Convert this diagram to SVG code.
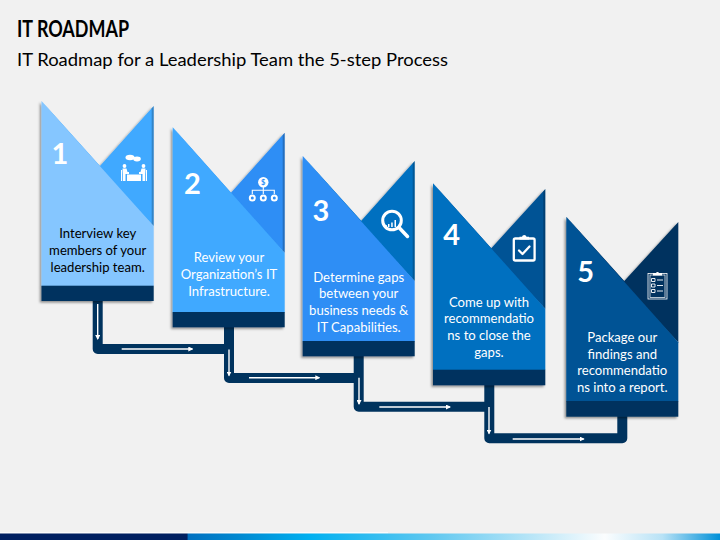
<svg xmlns="http://www.w3.org/2000/svg" width="720" height="540" viewBox="0 0 720 540">
<style>
.t{font-family:"Lato","Open Sans",sans-serif;font-size:13.1px;text-anchor:middle;fill:#fff}
.k{fill:#000}
.n{font-family:"Lato","Open Sans",sans-serif;font-size:29px;font-weight:700;text-anchor:middle;fill:#fff}
.c{fill:none;stroke:#00335e;stroke-width:10;stroke-linejoin:round}
.a{fill:none;stroke:#fff;stroke-width:1.4;marker-end:url(#ah)}
.bar{fill:#00335e}
.edge{fill:#000;opacity:.22}
.ws{fill:none;stroke:#fff;stroke-width:2.300;stroke-linecap:round;stroke-linejoin:round}
.wf{fill:#fff}
</style>
<defs>
<filter id="sh" x="-10%" y="-10%" width="120%" height="120%"><feDropShadow dx="-1.6" dy="1.6" stdDeviation="1.1" flood-color="#000" flood-opacity=".42"/></filter>
<marker id="ah" markerWidth="5" markerHeight="5" refX="4" refY="2.5" orient="auto" markerUnits="userSpaceOnUse"><path d="M0 0L5 2.5L0 5Z" fill="#fff"/></marker>
<linearGradient id="bg" x1="0" x2="1" y1="0" y2="0">
<stop offset="0" stop-color="#002060"/><stop offset=".26" stop-color="#002060"/><stop offset=".261" stop-color="#0070c0"/><stop offset=".33" stop-color="#0088d0"/><stop offset=".43" stop-color="#00b0f0"/><stop offset=".6" stop-color="#60c8f0"/><stop offset=".75" stop-color="#c0e8f8"/><stop offset=".84" stop-color="#fbfdfe"/><stop offset=".92" stop-color="#b8e2f6"/><stop offset="1" stop-color="#0090d8"/>
</linearGradient>
</defs>
<rect width="720" height="540" fill="#f1f1f1"/>
<rect y="532.300" width="388" height="1.200" fill="#fff"/>
<rect y="533.500" width="720" height="6.500" fill="url(#bg)"/>
<text x="17" y="37" font-family="Lato,'Open Sans',sans-serif" font-size="22.500" font-weight="700" fill="#000" textLength="112" lengthAdjust="spacingAndGlyphs">IT ROADMAP</text>
<text x="17" y="65.500" font-family="Lato,'Open Sans',sans-serif" font-size="18" fill="#000" textLength="431" lengthAdjust="spacingAndGlyphs">IT Roadmap for a Leadership Team the 5-step Process</text>

<g id="connectors">
<path class="c" d="M97.700 300V349H229"/>
<path class="c" d="M229 326V378H358.700"/>
<path class="c" d="M358.700 355V406.700H489.300"/>
<path class="c" d="M489.300 384V438.300H622.300V416"/>
<path class="a" d="M97.700 304V339"/>
<path class="a" d="M121.700 349H192.300"/>
<path class="a" d="M229 349.500V375.500"/>
<path class="a" d="M249 377.700H319.300"/>
<path class="a" d="M359 377.700V404"/>
<path class="a" d="M379.300 407H450"/>
<path class="a" d="M489 407V433.500"/>
<path class="a" d="M512.700 439H583.700"/>
</g>

<g id="step-1">
<g filter="url(#sh)"><path fill="#3fa9ff" d="M41.500 101L100 166L153.700 106V226L100 170Z"/><path fill="#85c6ff" d="M41.500 101L153.700 226V286H41.500Z"/><rect class="bar" x="41.500" y="285.700" width="112.200" height="15.300"/></g>
<path class="edge" d="M151.700 108.300L153.700 106V226L151.700 223.800Z"/>
<text class="n" x="60" y="164">1</text>
<text class="t k" x="97.700" y="238">Interview key</text><text class="t k" x="97.700" y="255">members of your</text><text class="t k" x="97.700" y="271.500">leadership team.</text>
<g>
<ellipse class="wf" cx="130" cy="157.500" rx="4.500" ry="2.800"/><ellipse class="wf" cx="137" cy="159" rx="3.800" ry="2.400"/>
<circle class="wf" cx="124.500" cy="166" r="1.900"/><circle class="wf" cx="143.500" cy="166" r="1.900"/>
<path class="wf" d="M122.500 168.500H126.500L127.500 172H129V174H125.500V181H123V174.500Z"/><path class="wf" d="M145.500 168.500H141.500L140.500 172H139V174H142.500V181H145V174.500Z"/>
<rect class="wf" x="127" y="174.500" width="14" height="6.500"/>
<rect class="wf" x="121" y="170" width="1.200" height="11"/><rect class="wf" x="145.800" y="170" width="1.200" height="11"/>
</g>
</g>

<g id="step-2">
<g filter="url(#sh)"><path fill="#2d8ef5" d="M172.700 127.300L231 192.700L284.700 132.700V252.700L231 196Z"/><path fill="#3fa9ff" d="M172.700 127.300L284.700 252.700V312.500H172.700Z"/><rect class="bar" x="172.700" y="312" width="112" height="15.300"/></g>
<path class="edge" d="M282.700 135L284.700 132.700V252.700L282.700 250.500Z"/>
<text class="n" x="192.500" y="194">2</text>
<text class="t" x="229" y="262">Review your</text><text class="t" x="229" y="279">Organization’s IT</text><text class="t" x="229" y="295.500">Infrastructure.</text>
<g>
<circle class="wf" cx="263.300" cy="182.300" r="5.200"/>
<text x="263.300" y="185" font-family="Lato,sans-serif" font-size="7.500" font-weight="700" text-anchor="middle" fill="#2d8ef5">$</text>
<path d="M263.300 187V194M252.300 194V190.200H274.300V194" fill="none" stroke="#fff" stroke-width="1.100"/>
<circle cx="252.300" cy="198" r="2.500" fill="none" stroke="#fff" stroke-width="2"/><circle cx="263.300" cy="198" r="2.500" fill="none" stroke="#fff" stroke-width="2"/><circle cx="274.300" cy="198" r="2.500" fill="none" stroke="#fff" stroke-width="2"/>
</g>
</g>

<g id="step-3">
<g filter="url(#sh)"><path fill="#0070c0" d="M302.700 156L361.300 220.700L414.700 161V281L361.300 224Z"/><path fill="#2d8ef5" d="M302.700 156L414.700 281V341.500H302.700Z"/><rect class="bar" x="302.700" y="341" width="112" height="15.300"/></g>
<path class="edge" d="M412.700 163.300L414.700 161V281L412.700 278.800Z"/>
<text class="n" x="321" y="221">3</text>
<text class="t" x="358.700" y="281.700">Determine gaps</text><text class="t" x="358.700" y="298.400">between your</text><text class="t" x="358.700" y="315">business needs &amp;</text><text class="t" x="358.700" y="331.700">IT Capabilities.</text>
<g>
<circle cx="392" cy="220.500" r="9.300" fill="none" stroke="#fff" stroke-width="3"/>
<path d="M399 227.500L407.500 236.500" fill="none" stroke="#fff" stroke-width="3.500" stroke-linecap="round"/>
<path class="wf" d="M388 224h1.500v3H388zM391.200 222.500h1.500v4.500h-1.500zM394.500 220h1.500v7h-1.500zM385.500 225h1.300v2h-1.300z"/>
</g>
</g>

<g id="step-4">
<g filter="url(#sh)"><path fill="#005295" d="M433 183.300L491.300 248.300L545.300 189V308.700L491.300 252Z"/><path fill="#0070c0" d="M433 183.300L545.300 308.700V370H433Z"/><rect class="bar" x="433" y="369.700" width="112.300" height="15.600"/></g>
<path class="edge" d="M543.300 191.300L545.300 189V308.700L543.300 306.500Z"/>
<text class="n" x="451.700" y="245">4</text>
<text class="t" x="489" y="306.700">Come up with</text><text class="t" x="489" y="323.300">recommendatio</text><text class="t" x="489" y="340">ns to close the</text><text class="t" x="489" y="356.500">gaps.</text>
<g>
<rect x="513.800" y="238.500" width="20.800" height="22" rx="1.500" class="ws"/>
<path class="wf" d="M519.500 239.500V236.800H522A2.300 2.300 0 0 1 526.500 236.800H529V239.500Z"/>
<path class="ws" d="M519 250.500L522.500 254L529.500 246.500"/>
</g>
</g>

<g id="step-5">
<g filter="url(#sh)"><path fill="#00335e" d="M566.300 216.700L624.300 281L678.300 222V342.300L624.300 285Z"/><path fill="#005295" d="M566.300 216.700L678.300 342.300V401.500H566.300Z"/><rect class="bar" x="566.300" y="401" width="112" height="15.700"/></g>
<text class="n" x="585.700" y="282">5</text>
<text class="t" x="622.300" y="342">Package our</text><text class="t" x="622.300" y="358.700">findings and</text><text class="t" x="622.300" y="375.300">recommendatio</text><text class="t" x="622.300" y="392">ns into a report.</text>
<g fill="none" stroke="#fff">
<rect x="648" y="273.500" width="19" height="25.500" stroke-width=".8"/>
<rect x="650" y="275" width="15" height="22.500" stroke-width=".7"/>
<path class="wf" stroke="none" d="M653 275.500V273H656A1.600 1.600 0 0 1 659 273H662V275.500Z"/>
<path stroke-width=".9" d="M651.500 278.500h3.500v3h-3.500zM651.500 284h3.500v3h-3.500zM651.500 289.500h3.500v3h-3.500zM657 280h6M657 285.500h6M657 291h6"/>
</g>
</g>
</svg>
